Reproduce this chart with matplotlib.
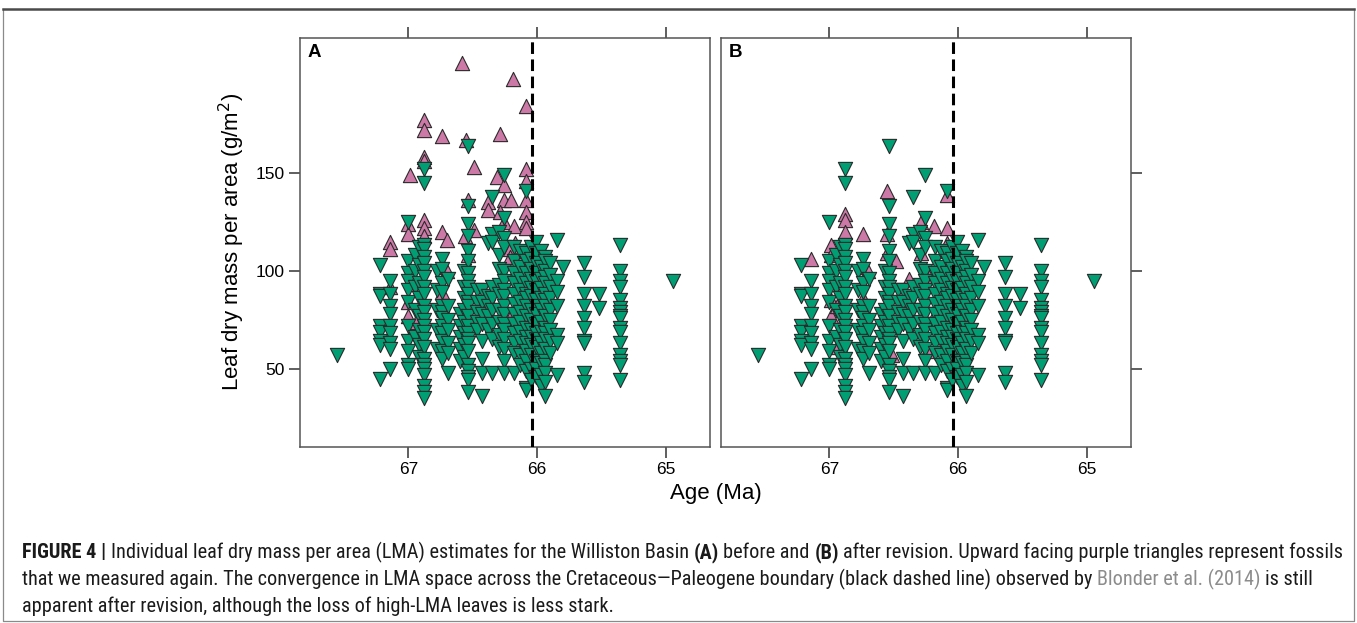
import os
import matplotlib
matplotlib.use('Agg')
import matplotlib.pyplot as plt
from matplotlib import font_manager
from matplotlib.font_manager import FontProperties
from matplotlib.lines import Line2D

# ---- data ----
# green (unchanged) specimens, grouped by site age (Ma)
green_ages = [67.55, 67.22, 67.14, 67.00, 66.95, 66.92, 66.88, 66.78, 66.74,
              66.69, 66.60, 66.57, 66.54, 66.47, 66.43, 66.38, 66.35, 66.30,
              66.26, 66.18, 66.13, 66.09, 66.05, 66.01, 65.97, 65.94, 65.90,
              65.85, 65.80, 65.64, 65.52, 65.36, 64.95]
green_lma = [
    [57],
    [103, 88, 87, 72, 69, 64, 62, 45],
    [95, 88, 82, 78, 72, 68, 63, 60, 50],
    [125, 105, 99, 95, 90, 84, 72, 64, 59, 52, 50],
    [108, 100, 92, 80, 66],
    [112, 103, 94, 86, 77, 70, 62, 56],
    [152, 145, 113, 111, 107, 104, 100, 97, 92, 88, 82, 79, 75, 72, 69, 65,
     61, 55, 52, 50, 47, 41, 38, 35],
    [100, 90, 80, 70, 60],
    [106, 101, 94, 89, 82, 79, 76, 72, 68, 64, 59, 55],
    [96, 82, 75, 70, 63, 58, 48],
    [78, 72, 66, 60, 54],
    [100, 92, 86, 80, 74, 68, 62, 56],
    [164, 133, 124, 118, 110, 105, 99, 95, 92, 88, 84, 82, 77, 72, 68, 65,
     63, 59, 52, 49, 46, 44, 38],
    [90, 84, 79, 74, 70],
    [90, 84, 78, 73, 64, 55, 48, 36],
    [114, 87, 82, 77, 70],
    [138, 119, 115, 92, 86, 80, 73, 65, 48],
    [120, 108, 101, 93, 88, 80, 74, 67, 61],
    [149, 127, 117, 112, 100, 95, 90, 87, 82, 78, 73, 70, 65, 60, 54, 48],
    [112, 105, 99, 94, 88, 83, 78, 73, 68, 63, 58, 48],
    [110, 102, 96, 90, 84, 79, 74, 69, 64, 57, 52],
    [141, 109, 105, 99, 94, 88, 86, 82, 77, 71, 66, 63, 59, 54, 49, 40, 39],
    [112, 106, 101, 96, 91, 87, 80, 75, 70, 66, 62, 57, 50, 44],
    [115, 109, 104, 99, 95, 90, 85, 82, 78, 73, 68, 65, 61, 54, 50, 46],
    [110, 102, 96, 91, 86, 80, 74, 69, 63, 58, 53, 47, 41],
    [107, 105, 100, 97, 94, 88, 85, 82, 77, 71, 68, 65, 60, 54, 52, 48, 43, 36],
    [104, 98, 92, 86, 80, 75, 70, 64, 58],
    [116, 95, 89, 82, 67, 63, 47],
    [102],
    [104, 97, 88, 82, 76, 71, 64, 63, 48, 43],
    [88, 81],
    [113, 100, 95, 92, 85, 81, 79, 77, 76, 71, 69, 63, 57, 54, 52, 44],
    [95],
]

# purple (re-measured) specimens, before revision (panel A)
purple_a_age = [66.58, 66.19, 66.09, 66.88, 66.88, 66.74, 66.55, 66.29, 66.88,
                66.88, 66.99, 66.49, 66.09, 66.09, 66.31, 66.26, 66.26, 66.20,
                66.09, 66.54, 66.38, 66.38, 66.09, 66.09, 66.29, 66.26, 66.18,
                66.09, 66.88, 66.88, 67.00, 67.00, 66.74, 66.70, 66.49, 66.56,
                67.14, 67.14, 66.88, 66.17, 66.13, 66.21, 66.21, 66.08, 66.74,
                66.70, 67.00, 67.00, 66.95, 66.74, 66.74, 66.54, 67.14, 66.20,
                66.94]
purple_a_lma = [206, 198, 184, 177, 172, 169, 167, 170, 158,
                156, 149, 153, 152, 146, 148, 144, 136, 136,
                136, 136, 135, 131, 130, 125, 130, 125, 123,
                122, 126, 122, 124, 119, 120, 116, 121, 118,
                115, 111, 118, 114, 109, 111, 107, 112, 102,
                100, 84, 77, 72, 89, 75, 108, 92, 77,
                74]

# same specimens after revision (panel B)
purple_b_age = [66.55, 66.09, 66.88, 66.88, 66.88, 66.74, 66.55, 66.29, 66.19,
                66.09, 67.14, 66.99, 66.99, 66.99, 66.99, 66.94, 66.93, 66.74,
                66.70, 66.74, 66.74, 66.38, 66.55, 66.48, 66.29, 66.09, 66.19,
                66.23, 66.51, 66.24]
purple_b_lma = [141, 139, 129, 126, 120, 119, 119, 125, 123,
                122, 106, 113, 108, 85, 77, 82, 61, 102,
                100, 86, 75, 96, 109, 105, 109, 114, 77,
                97, 57, 59]

kpg_boundary = 66.04
x_ticks = [67, 66, 65]
y_ticks = [50, 100, 150]
panel_labels = ['A', 'B']

green_x = [a for a, vals in zip(green_ages, green_lma) for _ in vals]
green_y = [v for vals in green_lma for v in vals]

GREEN = '#009E73'
PURPLE = '#CC79A7'
W, H = 1357, 623

names = {f.name for f in font_manager.fontManager.ttflist}
main_font = 'Liberation Sans' if 'Liberation Sans' in names else 'DejaVu Sans'


def find_narrow(bold):
    # look for a condensed sans face on disk for the caption
    wanted = ['LiberationSansNarrow', 'NotoSans-Condensed', 'OpenSans-Condensed',
              'OpenSans_Condensed', 'Roboto-Condensed', 'RobotoCondensed']
    files = [f.fname for f in font_manager.fontManager.ttflist]
    for key in wanted:
        for fn in files:
            base = os.path.basename(fn).replace(' ', '')
            if not base.startswith(key):
                continue
            style = base[len(key):].lower()
            if 'italic' in style or 'semi' in style or 'extra' in style:
                continue
            if bold and style.lstrip('-_').startswith('bold'):
                return fn
            if not bold and (style.lstrip('-_').startswith('regular') or style.startswith('.')):
                return fn
    return None


narrow_reg = find_narrow(False)
narrow_bold = find_narrow(True)


def cap_props(size, weight):
    if weight == 'bold' and narrow_bold:
        return FontProperties(fname=narrow_bold, size=size)
    if weight != 'bold' and narrow_reg:
        return FontProperties(fname=narrow_reg, size=size)
    return FontProperties(family=main_font, weight=weight, size=size)


fig = plt.figure(figsize=(W / 100, H / 100), dpi=100)
fig.patch.set_facecolor('white')


def px_axes(l, t, r, b):
    return fig.add_axes([l / W, 1 - b / H, (r - l) / W, (b - t) / H])


axA = px_axes(300, 38, 710, 447)
axB = px_axes(721, 38, 1131, 447)

panels = [(axA, purple_a_age, purple_a_lma), (axB, purple_b_age, purple_b_lma)]
for i, (ax, pa, pl) in enumerate(panels):
    ax.scatter(pa, pl, marker='^', s=105, c=PURPLE, edgecolors='#2a2a2a',
               linewidths=0.8, zorder=2)
    ax.scatter(green_x, green_y, marker='v', s=105, c=GREEN, edgecolors='#2a2a2a',
               linewidths=0.8, zorder=3)
    ax.axvline(kpg_boundary, color='black', lw=2.2, ls=(0, (3.8, 1.8)), zorder=4)
    ax.set_xlim(67.84, 64.66)
    ax.set_ylim(10, 219)
    ax.set_xticks(x_ticks)
    ax.set_yticks(y_ticks)
    for s in ax.spines.values():
        s.set_color('#555555')
        s.set_linewidth(1.1)
    ax.tick_params(direction='out', length=8, width=1.1, color='#333333',
                   top=True, bottom=True, labeltop=False, labelsize=12.5, pad=3)
    for lab in ax.get_xticklabels() + ax.get_yticklabels():
        lab.set_family(main_font)
    if i == 0:
        ax.tick_params(left=True, right=False, labelleft=True)
    else:
        ax.tick_params(left=False, right=True, labelleft=False, labelright=False)
    ax.text(0.018, 0.985, panel_labels[i], transform=ax.transAxes, ha='left',
            va='top', fontsize=13.5, fontweight='bold', family=main_font)

fig.text(715.5 / W, 1 - 494 / H, 'Age (Ma)', ha='center', va='center',
         fontsize=16, family=main_font)
fig.text(232 / W, 1 - 242 / H, 'Leaf dry mass per area (g/m$^2$)', ha='center',
         va='center', rotation=90, fontsize=16, family=main_font)

# outer frame of the figure box
fig.add_artist(Line2D([3 / W, 3 / W, 1354 / W, 1354 / W],
                      [1 - 9 / H, 1 - 621 / H, 1 - 621 / H, 1 - 9 / H],
                      transform=fig.transFigure, color='#8a8a8a', lw=0.9))
fig.add_artist(Line2D([3 / W, 1354 / W], [1 - 8.5 / H, 1 - 8.5 / H],
                      transform=fig.transFigure, color='#4a4a4a', lw=1.8))

# ---- caption ----
caption = [
    [('FIGURE 4 |', 'bold', '#1a1a1a', False),
     ('Individual leaf dry mass per area (LMA) estimates for the Williston Basin', 'normal', '#1a1a1a', True),
     ('(A)', 'bold', '#1a1a1a', True),
     ('before and', 'normal', '#1a1a1a', True),
     ('(B)', 'bold', '#1a1a1a', True),
     ('after revision. Upward facing purple triangles represent fossils', 'normal', '#1a1a1a', True)],
    [('that we measured again. The convergence in LMA space across the Cretaceous\u2014Paleogene boundary (black dashed line) observed by', 'normal', '#1a1a1a', False),
     ('Blonder et al. (2014)', 'normal', '#8c8c8c', True),
     ('is still', 'normal', '#1a1a1a', True)],
    [('apparent after revision, although the loss of high-LMA leaves is less stark.', 'normal', '#1a1a1a', False)],
]
baselines = [558.5, 585, 611.5]
renderer = fig.canvas.get_renderer()
x_start, x_end = 22.0, 1343.0


def layout_caption(size):
    # place the caption pieces one after another, return the artists and line-1 end
    sp_a = fig.text(0, 0, 'x x', fontproperties=cap_props(size, 'normal'))
    sp_b = fig.text(0, 0, 'xx', fontproperties=cap_props(size, 'normal'))
    space = (sp_a.get_window_extent(renderer=renderer).width
             - sp_b.get_window_extent(renderer=renderer).width)
    sp_a.remove()
    sp_b.remove()
    arts, ends = [], []
    for segs, yb in zip(caption, baselines):
        x = x_start
        for txt, wt, col, lead in segs:
            if lead:
                x += space
            t = fig.text(x / W, 1 - yb / H, txt, fontproperties=cap_props(size, wt),
                         color=col, va='baseline', ha='left')
            arts.append(t)
            bb = t.get_window_extent(renderer=renderer)
            x = bb.x1
        ends.append(x)
    return arts, ends[0]


cap_size = 10.0
for _ in range(4):
    arts, end = layout_caption(cap_size)
    if abs(end - x_end) < 1.5:
        break
    for a in arts:
        a.remove()
    cap_size *= (x_end - x_start) / (end - x_start)
else:
    arts, end = layout_caption(cap_size)

fig.savefig('out.png', dpi=100, facecolor='white')
